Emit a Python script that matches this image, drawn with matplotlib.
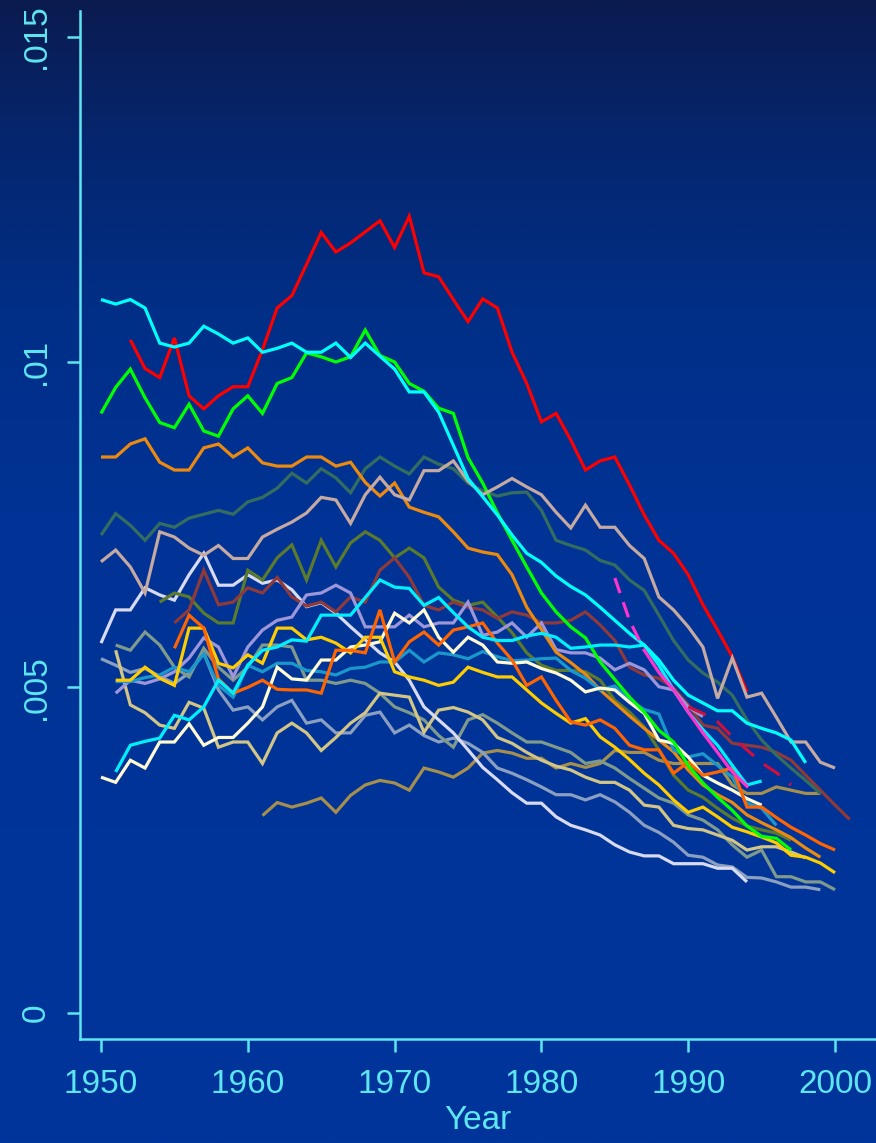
import numpy as np
import matplotlib
matplotlib.use("Agg")
import matplotlib.pyplot as plt
from matplotlib.colors import LinearSegmentedColormap

plt.rcParams['font.family'] = ['Liberation Sans', 'DejaVu Sans']

# ---- series: first year and yearly rates ----
red_start = 1952
red = [0.01034, 0.00990, 0.00976, 0.01037, 0.00948, 0.00928, 0.00948, 0.00962, 0.00962, 0.01019,
       0.01083, 0.01102, 0.01150, 0.01199, 0.01169, 0.01183, 0.01200, 0.01217, 0.01176, 0.01224,
       0.01137, 0.01131, 0.01096, 0.01062, 0.01097, 0.01083, 0.01015, 0.00967, 0.00908, 0.00921,
       0.00880, 0.00834, 0.00848, 0.00854, 0.00811, 0.00765, 0.00726, 0.00706, 0.00673, 0.00627,
       0.00588, 0.00547, 0.00493]

cyan_a_start = 1950
cyan_a = [0.01096, 0.01089, 0.01096, 0.01083, 0.01029, 0.01023, 0.01029, 0.01055, 0.01043, 0.01029,
          0.01037, 0.01015, 0.01021, 0.01029, 0.01015, 0.01015, 0.01029, 0.01007, 0.01029, 0.01009,
          0.00989, 0.00954, 0.00954, 0.00923, 0.00872, 0.00821, 0.00793, 0.00765, 0.00734, 0.00706,
          0.00692, 0.00671, 0.00655, 0.00642, 0.00623, 0.00603, 0.00583, 0.00565, 0.00542, 0.00511,
          0.00488, 0.00476, 0.00464, 0.00464, 0.00445, 0.00437, 0.00430, 0.00419, 0.00384]

cyan_b_start = 1951
cyan_b = [0.00370, 0.00411, 0.00417, 0.00422, 0.00457, 0.00450, 0.00470, 0.00511, 0.00491, 0.00534,
          0.00557, 0.00562, 0.00573, 0.00571, 0.00611, 0.00611, 0.00611, 0.00638, 0.00665, 0.00654,
          0.00652, 0.00626, 0.00638, 0.00615, 0.00593, 0.00577, 0.00572, 0.00572, 0.00579, 0.00583,
          0.00577, 0.00560, 0.00562, 0.00565, 0.00565, 0.00562, 0.00565, 0.00534, 0.00496, 0.00462,
          0.00435, 0.00411, 0.00380, 0.00350, 0.00356]

green_start = 1950
green = [0.00921, 0.00961, 0.00989, 0.00945, 0.00907, 0.00899, 0.00935, 0.00894, 0.00886, 0.00928,
         0.00948, 0.00921, 0.00967, 0.00976, 0.01014, 0.01008, 0.01000, 0.01008, 0.01049, 0.01010,
         0.01000, 0.00967, 0.00955, 0.00929, 0.00921, 0.00853, 0.00814, 0.00768, 0.00726, 0.00685,
         0.00645, 0.00616, 0.00593, 0.00576, 0.00539, 0.00512, 0.00485, 0.00462, 0.00434, 0.00416,
         0.00380, 0.00353, 0.00331, 0.00311, 0.00287, 0.00271, 0.00268, 0.00250]

orange_start = 1950
orange = [0.00854, 0.00854, 0.00874, 0.00882, 0.00846, 0.00834, 0.00834, 0.00868, 0.00874, 0.00854,
          0.00868, 0.00845, 0.00840, 0.00840, 0.00854, 0.00854, 0.00840, 0.00846, 0.00815, 0.00794,
          0.00814, 0.00777, 0.00769, 0.00762, 0.00739, 0.00714, 0.00708, 0.00704, 0.00673, 0.00623,
          0.00589, 0.00554, 0.00538, 0.00520, 0.00496, 0.00476, 0.00456, 0.00437, 0.00419, 0.00401,
          0.00373, 0.00350, 0.00335, 0.00323, 0.00304, 0.00292, 0.00281, 0.00269, 0.00253, 0.00239]

teal_start = 1950
teal = [0.00734, 0.00767, 0.00749, 0.00726, 0.00752, 0.00746, 0.00760, 0.00766, 0.00772, 0.00766,
        0.00785, 0.00792, 0.00806, 0.00829, 0.00814, 0.00836, 0.00822, 0.00799, 0.00836, 0.00854,
        0.00840, 0.00828, 0.00854, 0.00843, 0.00836, 0.00814, 0.00802, 0.00794, 0.00799, 0.00800,
        0.00772, 0.00726, 0.00718, 0.00711, 0.00695, 0.00688, 0.00665, 0.00649, 0.00611, 0.00572,
        0.00542, 0.00522, 0.00508, 0.00488, 0.00450, 0.00419, 0.00396, 0.00376, 0.00357, 0.00337]

tan_start = 1950
tan = [0.00693, 0.00711, 0.00685, 0.00645, 0.00739, 0.00731, 0.00714, 0.00703, 0.00718, 0.00698,
       0.00698, 0.00731, 0.00743, 0.00754, 0.00768, 0.00792, 0.00788, 0.00752, 0.00796, 0.00823,
       0.00796, 0.00788, 0.00833, 0.00833, 0.00848, 0.00817, 0.00796, 0.00808, 0.00821, 0.00808,
       0.00796, 0.00769, 0.00745, 0.00780, 0.00746, 0.00746, 0.00718, 0.00698, 0.00639, 0.00619,
       0.00593, 0.00562, 0.00483, 0.00545, 0.00485, 0.00491, 0.00454, 0.00416, 0.00416, 0.00385,
       0.00376]

olive_start = 1954
olive = [0.00631, 0.00645, 0.00639, 0.00614, 0.00599, 0.00599, 0.00680, 0.00665, 0.00699, 0.00719,
         0.00665, 0.00726, 0.00685, 0.00722, 0.00739, 0.00726, 0.00699, 0.00714, 0.00699, 0.00654,
         0.00634, 0.00626, 0.00631, 0.00608, 0.00584, 0.00553, 0.00534, 0.00526, 0.00526, 0.00524,
         0.00511, 0.00480, 0.00462, 0.00439, 0.00404, 0.00365, 0.00342, 0.00331, 0.00314, 0.00299,
         0.00287, 0.00281, 0.00276, 0.00265]

maroon_start = 1955
maroon = [0.00599, 0.00619, 0.00680, 0.00627, 0.00631, 0.00653, 0.00645, 0.00669, 0.00639, 0.00625,
          0.00631, 0.00616, 0.00639, 0.00631, 0.00680, 0.00699, 0.00669, 0.00626, 0.00619, 0.00631,
          0.00623, 0.00619, 0.00606, 0.00616, 0.00611, 0.00599, 0.00599, 0.00603, 0.00616, 0.00596,
          0.00572, 0.00531, 0.00519, 0.00514, 0.00499, 0.00473, 0.00442, 0.00437, 0.00414, 0.00411,
          0.00408, 0.00400, 0.00388, 0.00365, 0.00342, 0.00319, 0.00297]

silver_start = 1950
silver = [0.00568, 0.00619, 0.00619, 0.00653, 0.00642, 0.00634, 0.00673, 0.00706, 0.00657, 0.00657,
          0.00673, 0.00660, 0.00665, 0.00650, 0.00624, 0.00630, 0.00614, 0.00593, 0.00573, 0.00553,
          0.00539, 0.00511, 0.00470, 0.00450, 0.00430, 0.00404, 0.00377, 0.00358, 0.00338, 0.00322,
          0.00322, 0.00301, 0.00288, 0.00281, 0.00273, 0.00258, 0.00247, 0.00241, 0.00241, 0.00229,
          0.00229, 0.00229, 0.00222, 0.00222, 0.00201]

lavender_start = 1951
lavender = [0.00491, 0.00511, 0.00506, 0.00513, 0.00524, 0.00545, 0.00576, 0.00562, 0.00516, 0.00562,
            0.00588, 0.00603, 0.00608, 0.00642, 0.00645, 0.00657, 0.00645, 0.00593, 0.00593, 0.00593,
            0.00611, 0.00593, 0.00599, 0.00599, 0.00631, 0.00580, 0.00585, 0.00599, 0.00577, 0.00599,
            0.00558, 0.00553, 0.00553, 0.00545, 0.00527, 0.00537, 0.00527, 0.00501, 0.00496, 0.00470,
            0.00455]

vermilion_start = 1955
vermilion = [0.00560, 0.00611, 0.00591, 0.00513, 0.00491, 0.00500, 0.00511, 0.00497, 0.00496, 0.00496,
             0.00491, 0.00557, 0.00557, 0.00553, 0.00619, 0.00539, 0.00570, 0.00585, 0.00565, 0.00588,
             0.00593, 0.00599, 0.00568, 0.00542, 0.00503, 0.00516, 0.00480, 0.00447, 0.00442, 0.00450,
             0.00437, 0.00411, 0.00404, 0.00404, 0.00368, 0.00385, 0.00365, 0.00370, 0.00376, 0.00316,
             0.00316, 0.00300, 0.00285, 0.00273, 0.00260, 0.00250]

gold_start = 1951
gold = [0.00511, 0.00511, 0.00531, 0.00514, 0.00503, 0.00591, 0.00591, 0.00537, 0.00530, 0.00550,
        0.00537, 0.00591, 0.00591, 0.00573, 0.00577, 0.00568, 0.00553, 0.00577, 0.00577, 0.00524,
        0.00516, 0.00511, 0.00503, 0.00508, 0.00531, 0.00523, 0.00516, 0.00516, 0.00496, 0.00476,
        0.00460, 0.00445, 0.00452, 0.00424, 0.00408, 0.00389, 0.00368, 0.00350, 0.00327, 0.00308,
        0.00316, 0.00301, 0.00285, 0.00278, 0.00270, 0.00261, 0.00242, 0.00239, 0.00230, 0.00215]

cream_start = 1950
cream = [0.00362, 0.00354, 0.00388, 0.00376, 0.00416, 0.00416, 0.00444, 0.00411, 0.00423, 0.00423,
         0.00445, 0.00470, 0.00531, 0.00513, 0.00511, 0.00542, 0.00542, 0.00562, 0.00565, 0.00570,
         0.00614, 0.00599, 0.00619, 0.00577, 0.00554, 0.00577, 0.00565, 0.00539, 0.00537, 0.00539,
         0.00529, 0.00522, 0.00511, 0.00493, 0.00499, 0.00496, 0.00477, 0.00460, 0.00419, 0.00414,
         0.00393, 0.00365, 0.00353, 0.00342, 0.00329, 0.00319]

cerulean_start = 1951
cerulean = [0.00509, 0.00509, 0.00515, 0.00519, 0.00531, 0.00524, 0.00551, 0.00503, 0.00485, 0.00534,
            0.00524, 0.00537, 0.00537, 0.00526, 0.00524, 0.00519, 0.00529, 0.00531, 0.00539, 0.00539,
            0.00557, 0.00539, 0.00553, 0.00550, 0.00544, 0.00555, 0.00547, 0.00541, 0.00542, 0.00544,
            0.00545, 0.00526, 0.00514, 0.00496, 0.00502, 0.00480, 0.00466, 0.00459, 0.00404, 0.00393,
            0.00398, 0.00380, 0.00362, 0.00322, 0.00314, 0.00288]

sage_start = 1951
sage = [0.00565, 0.00557, 0.00585, 0.00565, 0.00531, 0.00516, 0.00560, 0.00531, 0.00511, 0.00531,
        0.00565, 0.00565, 0.00562, 0.00511, 0.00511, 0.00506, 0.00511, 0.00506, 0.00491, 0.00470,
        0.00461, 0.00450, 0.00426, 0.00408, 0.00450, 0.00458, 0.00445, 0.00430, 0.00416, 0.00416,
        0.00408, 0.00400, 0.00383, 0.00387, 0.00376, 0.00360, 0.00345, 0.00330, 0.00322, 0.00304,
        0.00296, 0.00281, 0.00258, 0.00239, 0.00250, 0.00209, 0.00209, 0.00201, 0.00201, 0.00189]

slate_start = 1950
slate = [0.00544, 0.00534, 0.00523, 0.00529, 0.00517, 0.00506, 0.00522, 0.00553, 0.00496, 0.00465,
         0.00470, 0.00450, 0.00470, 0.00480, 0.00445, 0.00450, 0.00430, 0.00430, 0.00457, 0.00462,
         0.00430, 0.00442, 0.00426, 0.00416, 0.00422, 0.00414, 0.00400, 0.00376, 0.00368, 0.00358,
         0.00347, 0.00335, 0.00335, 0.00327, 0.00335, 0.00324, 0.00308, 0.00288, 0.00277, 0.00262,
         0.00242, 0.00239, 0.00227, 0.00224, 0.00208, 0.00207, 0.00201, 0.00193, 0.00193, 0.00189]

khaki_start = 1951
khaki = [0.00557, 0.00473, 0.00461, 0.00442, 0.00437, 0.00477, 0.00468, 0.00408, 0.00416, 0.00416,
         0.00383, 0.00430, 0.00445, 0.00430, 0.00403, 0.00423, 0.00445, 0.00461, 0.00491, 0.00488,
         0.00485, 0.00431, 0.00465, 0.00469, 0.00462, 0.00450, 0.00423, 0.00414, 0.00400, 0.00388,
         0.00379, 0.00373, 0.00362, 0.00354, 0.00354, 0.00342, 0.00319, 0.00316, 0.00288, 0.00283,
         0.00281, 0.00273, 0.00265, 0.00250, 0.00255, 0.00255, 0.00247, 0.00238]

bronze_start = 1961
bronze = [0.00303, 0.00323, 0.00316, 0.00322, 0.00330, 0.00308, 0.00334, 0.00350, 0.00357, 0.00353,
          0.00342, 0.00376, 0.00370, 0.00362, 0.00376, 0.00399, 0.00403, 0.00399, 0.00391, 0.00391,
          0.00376, 0.00383, 0.00377, 0.00383, 0.00403, 0.00400, 0.00400, 0.00388, 0.00383, 0.00383,
          0.00383, 0.00383, 0.00350, 0.00337, 0.00337, 0.00347, 0.00342, 0.00337, 0.00337]

magenta_start = 1985
magenta = [0.00668, 0.00603, 0.00557, 0.00523, 0.00496, 0.00462, 0.00430, 0.00400, 0.00370, 0.00348]

crimson_start = 1990
crimson = [0.00470, 0.00460, 0.00447, 0.00424, 0.00404, 0.00384, 0.00369, 0.00350]

# drawing order (first drawn sits at the back) and colours
series = [
    (bronze_start, bronze, "#a68f4c"),
    (slate_start, slate, "#8b9fc0"),
    (sage_start, sage, "#7f9a8d"),
    (khaki_start, khaki, "#d2c585"),
    (silver_start, silver, "#d8dbef"),
    (olive_start, olive, "#5c7a2c"),
    (maroon_start, maroon, "#8e3a3b"),
    (lavender_start, lavender, "#9d96d9"),
    (teal_start, teal, "#346d60"),
    (orange_start, orange, "#ec890f"),
    (cerulean_start, cerulean, "#1a98cc"),
    (cream_start, cream, "#fffad2"),
    (gold_start, gold, "#ffcc00"),
    (vermilion_start, vermilion, "#ff6400"),
    (green_start, green, "#00ff00"),
    (cyan_b_start, cyan_b, "#00f0ff"),
    (red_start, red, "#ff0000"),
    (tan_start, tan, "#c6a9a0"),
    (cyan_a_start, cyan_a, "#00ffff"),
]

AXIS_COLOR = "#5ee6f0"
LW = 2.3

fig = plt.figure(figsize=(8.76, 11.43), dpi=100)

# vertical background gradient: dark navy at the top to royal blue
bg = fig.add_axes([0, 0, 1, 1], zorder=0)
bg_cmap = LinearSegmentedColormap.from_list(
    "bg", [(0.0, "#0b1b50"), (0.12, "#05266e"), (0.28, "#012f88"),
           (0.45, "#003395"), (1.0, "#00359b")])
grad = np.linspace(0, 1, 512).reshape(-1, 1)
bg.imshow(grad, aspect="auto", cmap=bg_cmap, extent=[0, 1, 0, 1], origin="upper")
bg.set_axis_off()

ax = fig.add_axes([80 / 876, 104 / 1143, 1 - 80 / 876, (1039 - 11) / 1143], zorder=1)
ax.set_facecolor("none")

for start, vals, col in series:
    yrs = np.arange(start, start + len(vals))
    ax.plot(yrs, vals, color=col, lw=LW, solid_joinstyle="miter", solid_capstyle="butt")

# partially reported series drawn with dashes
mag_years = np.arange(magenta_start, magenta_start + len(magenta))
ax.plot(mag_years[:3], magenta[:3], color="#ff33cc", lw=LW, dashes=(5, 3))
ax.plot(mag_years[2:], magenta[2:], color="#ff33cc", lw=LW)
crim_years = np.arange(crimson_start, crimson_start + len(crimson))
ax.plot(crim_years, crimson, color="#cc1040", lw=LW, dashes=(6, 4))

ax.set_xlim(1948.57, 2002.79)
ax.set_ylim(-0.000404, 0.015394)

x_ticks = [1950, 1960, 1970, 1980, 1990, 2000]
y_ticks = [0, 0.005, 0.01, 0.015]
y_labels = ["0", ".005", ".01", ".015"]
ax.set_xticks(x_ticks)
ax.set_xticklabels([str(t) for t in x_ticks])
ax.set_yticks(y_ticks)
ax.set_yticklabels(y_labels, rotation=90, va="center")

for side in ("top", "right"):
    ax.spines[side].set_visible(False)
for side in ("left", "bottom"):
    ax.spines[side].set_color(AXIS_COLOR)
    ax.spines[side].set_linewidth(1.8)

ax.tick_params(axis="both", colors=AXIS_COLOR, labelcolor=AXIS_COLOR, length=9.5,
               width=1.8, labelsize=24, direction="out")
ax.tick_params(axis="x", pad=12)
ax.tick_params(axis="y", pad=11)
ax.set_xlabel("Year", color=AXIS_COLOR, fontsize=24, labelpad=4)

fig.savefig("out.png", dpi=100)
